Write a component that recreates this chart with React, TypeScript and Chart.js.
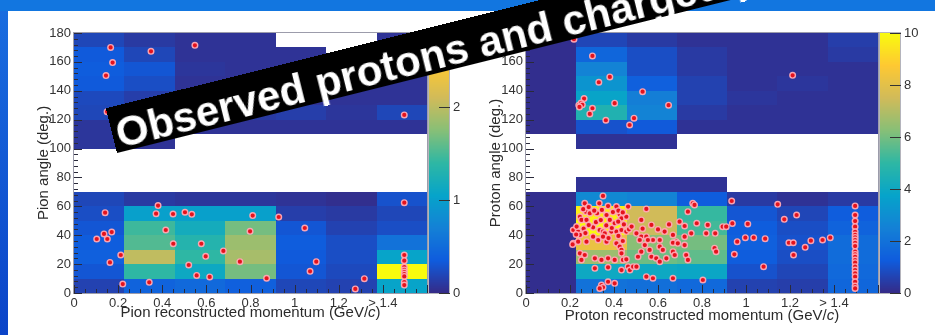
import React, { useEffect, useRef } from 'react';
import { Chart, registerables } from 'chart.js';
Chart.register(...registerables);

const FAMILY = "'Liberation Sans', Arial, Helvetica, sans-serif";

// ---------- binning & labels ----------
const momentumBinEdges = [0, 0.22857, 0.45714, 0.68571, 0.91429, 1.14286, 1.37143, 1.6];
const angleBinEdges = [0, 10, 20, 30, 40, 50, 60, 70, 80, 90, 100, 110, 120, 130, 140, 150, 160, 170, 180];
const momentumTickValues = [0, 0.2, 0.4, 0.6, 0.8, 1.0, 1.2, 1.4];
const momentumTickLabels = ['0', '0.2', '0.4', '0.6', '0.8', '1', '1.2', '> 1.4'];

// ---------- histogram contents: rows = angle bins (0-10 ... 170-180), cols = momentum bins ----------
const pionCounts: (number | null)[][] = [
  [0.17, 0.42, 0.48, 0.39, 0.2, 0.17, 1.06],
  [0.31, 1.4, 1.12, 1.68, 0.31, 0.22, 2.8],
  [0.39, 2.02, 1.4, 1.9, 0.34, 0.25, 1.06],
  [0.36, 1.54, 1.32, 1.85, 0.36, 0.25, 0.56],
  [0.31, 1.46, 1.18, 1.68, 0.31, 0.17, 0.25],
  [0.25, 1.01, 1.01, 1.01, 0.14, 0.11, 0.2],
  [0.2, 0.11, 0.08, 0.08, 0.06, 0.03, 0.28],
  [null, null, null, null, null, null, null],
  [null, null, null, null, null, null, null],
  [null, null, null, null, null, null, null],
  [0.08, 0.06, null, null, null, null, null],
  [0.08, 0.06, 0.06, 0.06, 0.06, 0.06, 0.06],
  [0.2, 0.08, 0.06, 0.11, 0.14, 0.08, 0.2],
  [0.22, 0.14, 0.06, 0.06, 0.06, 0.06, 0.06],
  [0.34, 0.25, 0.06, 0.06, 0.06, 0.06, 0.06],
  [0.36, 0.31, 0.08, 0.06, 0.06, 0.06, 0.06],
  [0.34, 0.2, 0.06, 0.06, 0.06, null, 0.06],
  [0.2, 0.11, 0.06, 0.06, null, null, 0.06],
];
const pionColorMax = 2.8;
const pionColorTicks = [0, 1, 2];

const protonCounts: (number | null)[][] = [
  [0.1, 2.0, 1.9, 1.7, 0.6, 0.5, 1.6],
  [0.1, 4.0, 4.0, 3.9, 1.0, 0.7, 1.7],
  [0.1, 6.6, 5.9, 5.7, 1.3, 0.9, 1.8],
  [0.1, 8.2, 6.3, 6.0, 1.4, 1.0, 1.8],
  [0.1, 10, 7.4, 5.3, 1.3, 0.9, 1.5],
  [0.1, 9.7, 7.5, 5.1, 1.1, 0.7, 1.3],
  [0.1, 2.8, 2.6, 1.3, 0.4, 0.2, 0.4],
  [null, 0.2, 0.2, 0.2, null, null, null],
  [null, null, null, null, null, null, null],
  [null, null, null, null, null, null, null],
  [null, 0.2, 0.2, null, null, null, null],
  [0.1, 1.0, 1.2, 0.2, 0.2, 0.2, 0.2],
  [0.1, 4.6, 2.6, 0.4, 0.2, 0.2, 0.2],
  [0.1, 3.8, 2.4, 0.6, 0.3, 0.2, 0.2],
  [0.1, 3.2, 1.4, 0.6, 0.2, 0.3, 0.2],
  [0.1, 2.6, 0.9, 0.4, 0.2, 0.2, 0.2],
  [0.1, 1.6, 0.9, 0.4, 0.2, 0.2, 0.4],
  [0.1, 0.7, 0.4, 0.2, 0.2, 0.2, 0.5],
];
const protonColorMax = 10;
const protonColorTicks = [0, 2, 4, 6, 8, 10];

// ---------- observed events ----------
const pionMomentum = [
  0.166, 0.175, 0.145, 0.349, 0.548, 1.497, 0.15,
  0.141, 0.103, 0.136, 0.151, 0.171, 0.163, 0.212, 0.221, 0.341, 0.381, 0.372, 0.416, 0.449, 0.45,
  0.503, 0.534, 0.52, 0.577, 0.556, 0.597, 0.615, 0.677, 0.752, 0.798, 0.81, 0.873, 0.928, 1.046,
  1.098, 1.07, 1.316, 1.275, 1.497,
  1.497, 1.497, 1.497, 1.497, 1.497, 1.497, 1.497, 1.497, 1.497,
];
const pionAngle = [
  170, 159.5, 150.5, 167.3, 171.5, 123.3, 125.5,
  55.6, 37.4, 40.9, 37.4, 42.2, 21.2, 26.3, 6.2, 7.4, 60.5, 54.9, 43.6, 54.7, 34.1,
  55.9, 54.5, 19.4, 34.1, 12.2, 25.4, 11.1, 29.1, 21.7, 42.7, 53.6, 10.2, 52.6, 45.0,
  21.7, 15.0, 9.9, 2.8, 62.5,
  26.3, 22.4, 18, 16, 14.5, 13, 11.5, 7.5, 5.5,
];

const protonMomentum = [
  0.218, 0.302, 0.381, 0.331, 0.264, 0.403, 0.24, 0.25, 0.256, 0.243, 0.302, 0.29, 0.363, 0.491, 0.471, 0.53, 0.648, 1.212,
  0.35, 0.267, 0.333, 0.373, 0.411, 0.464, 0.547, 0.758, 0.766, 0.736,
  0.272, 0.29, 0.323, 0.366, 0.426, 0.434, 0.456, 0.245, 0.252, 0.275, 0.381, 0.403, 0.419, 0.524, 0.57, 0.698, 0.721, 0.776, 0.826, 0.894, 0.91,
  0.215, 0.237, 0.245, 0.305, 0.335, 0.35, 0.358, 0.388, 0.411, 0.434, 0.456, 0.468, 0.502, 0.524, 0.547, 0.577, 0.608, 0.63, 0.668, 0.683, 0.721, 0.751, 0.819, 0.86,
  0.215, 0.237, 0.275, 0.305, 0.328, 0.35, 0.366, 0.411, 0.426, 0.434, 0.517, 0.54, 0.554, 0.562, 0.608, 0.622, 0.668, 0.69, 0.721, 0.728, 0.736, 0.857, 0.864,
  0.245, 0.267, 0.252, 0.313, 0.343, 0.373, 0.403, 0.434, 0.441, 0.456, 0.509, 0.524, 0.57, 0.592, 0.608, 0.638, 0.668, 0.676,
  0.313, 0.373, 0.434, 0.464, 0.472, 0.487, 0.502, 0.547, 0.577, 0.668, 0.804,
  0.343, 0.35, 0.373, 0.403, 0.335,
  0.26, 0.285, 0.31, 0.345, 0.395, 0.42, 0.44, 0.23, 0.262, 0.285, 0.318, 0.34, 0.365, 0.39, 0.445, 0.228, 0.27, 0.375, 0.42, 0.44,
  0.48, 0.6, 0.65, 0.53,
  0.935, 0.938, 0.96, 0.947, 1.008, 0.997, 1.035, 1.087, 1.08, 1.144, 1.174, 1.23, 1.195, 1.215, 1.216, 1.269, 1.295, 1.348, 1.383, 0.212,
  1.496, 1.496, 1.496, 1.496, 1.496, 1.496, 1.496, 1.496, 1.496, 1.496, 1.496,
  1.496, 1.496, 1.496, 1.496, 1.496, 1.496, 1.496, 1.496, 1.496, 1.496, 1.496,
];
const protonAngle = [
  175.7, 164.1, 149.6, 145.9, 134.6, 131.4, 130, 131.5, 130.3, 128.8, 127.9, 124, 119.6, 121, 116.3, 139.4, 130, 150.7,
  67.2, 62.1, 62.1, 60.2, 59.8, 59.8, 58.2, 62.1, 61, 56.3,
  56.3, 55.2, 55.2, 54, 54.5, 51.7, 52.8, 52.8, 50.6, 50.6, 50.6, 48.3, 49.4, 50.6, 47.1, 49.4, 46.4, 48.3, 47.1, 45.9, 45.9,
  43.6, 42.5, 40.2, 45.5, 43.6, 42.5, 41.3, 42.5, 42.5, 43.6, 42.5, 44.1, 41.3, 39, 39, 36.7, 36.7, 42.5, 40.2, 35.5, 39, 41.3, 41.3, 41.3,
  34.4, 35.5, 35.5, 39, 36.7, 39, 35.5, 34.4, 32.1, 29.8, 36.7, 33.2, 36.7, 29.8, 32.1, 29.8, 34.8, 34.4, 33.2, 26.3, 22.9, 31, 28.6,
  27.5, 26.3, 22.9, 24, 22.9, 24, 22.9, 27.5, 22.9, 23.3, 25.1, 28.6, 25.1, 24, 21.7, 24, 28.6, 26.3,
  17.1, 17.8, 15.9, 18.2, 15.9, 18.2, 18.2, 11.3, 10.2, 10.2, 9,
  5.5, 3.9, 7.8, 6.7, 3.2,
  58, 59.5, 57, 57.5, 56, 57, 55.8, 46, 44.5, 47, 49, 50.5, 46.8, 45, 47.5, 40.5, 41.5, 38, 39.5, 36,
  46, 44, 47.5, 44.5,
  63.7, 48.2, 35.5, 26.8, 47.8, 38.3, 38.3, 37.6, 18.2, 61.4, 51, 54, 34.8, 34.8, 26.3, 31.6, 36.2, 36.7, 38.3, 33.6,
  60.3, 54, 49.8, 45.9, 42.4, 40.2, 38.5, 36.7, 34.8, 32.5, 28.6,
  26.7, 25.1, 22.8, 21, 18.2, 15.9, 13.6, 11.3, 7.8, 4.8, 3.2,
];

// ---------- ROOT kBird palette ----------
const birdR = [0.2082, 0.0592, 0.078, 0.0232, 0.1802, 0.5301, 0.8186, 0.9956, 0.9764];
const birdG = [0.1664, 0.3599, 0.5041, 0.6419, 0.7178, 0.7492, 0.7328, 0.7862, 0.9832];
const birdB = [0.5293, 0.8684, 0.8385, 0.7914, 0.6425, 0.4662, 0.3499, 0.1968, 0.0539];

function birdColor(t: number): string {
  const tt = Math.max(0, Math.min(1, t));
  const pos = tt * 8;
  const i = Math.min(7, Math.floor(pos));
  const f = pos - i;
  const r = birdR[i] + (birdR[i + 1] - birdR[i]) * f;
  const g = birdG[i] + (birdG[i + 1] - birdG[i]) * f;
  const b = birdB[i] + (birdB[i + 1] - birdB[i]) * f;
  return `rgb(${Math.round(r * 255)},${Math.round(g * 255)},${Math.round(b * 255)})`;
}

type PanelCfg = {
  counts: (number | null)[][];
  colorMax: number;
  colorTicks: number[];
  xTitleMain: string;
  yTitle: string;
  xTitleY: number;
  yTitleX: number;
};

function makeHistPlugin(cfg: PanelCfg) {
  return {
    id: 'hist2d',
    beforeDatasetsDraw(chart: any) {
      const { ctx, chartArea: a, scales } = chart;
      const xs = scales.x;
      const ys = scales.y;
      ctx.save();
      // cells
      for (let r = 0; r < cfg.counts.length; r++) {
        for (let c = 0; c < cfg.counts[r].length; c++) {
          const v = cfg.counts[r][c];
          if (v === null || v === undefined) continue;
          const x0 = Math.round(xs.getPixelForValue(momentumBinEdges[c]));
          const x1 = Math.round(xs.getPixelForValue(momentumBinEdges[c + 1]));
          const y0 = Math.round(ys.getPixelForValue(angleBinEdges[r + 1]));
          const y1 = Math.round(ys.getPixelForValue(angleBinEdges[r]));
          ctx.fillStyle = birdColor(v / cfg.colorMax);
          ctx.fillRect(x0, y0, x1 - x0, y1 - y0);
        }
      }
      // frame
      ctx.strokeStyle = '#9c9cab';
      ctx.lineWidth = 1;
      ctx.strokeRect(a.left - 0.5, a.top - 0.5, a.right - a.left + 1, a.bottom - a.top + 1);
      // inward ticks (ROOT style)
      ctx.strokeStyle = '#2a2a3a';
      ctx.beginPath();
      for (let i = 0; i <= 32; i++) {
        const v = i * 0.05;
        const px = Math.round(xs.getPixelForValue(v)) + 0.5;
        const len = i % 4 === 0 ? 8 : 4;
        ctx.moveTo(px, a.bottom);
        ctx.lineTo(px, a.bottom - len);
      }
      for (let i = 0; i <= 45; i++) {
        const v = i * 4;
        const py = Math.round(ys.getPixelForValue(v)) + 0.5;
        const len = i % 5 === 0 ? 8 : 4;
        ctx.moveTo(a.left, py);
        ctx.lineTo(a.left + len, py);
      }
      ctx.stroke();
      // colour bar
      const cbL = a.right + 1;
      const cbW = 22;
      const h = a.bottom - a.top;
      for (let py = a.top; py < a.bottom; py++) {
        const t = (a.bottom - py - 0.5) / h;
        ctx.fillStyle = birdColor(t);
        ctx.fillRect(cbL, py, cbW, 1);
      }
      ctx.strokeStyle = '#b4b4bc';
      ctx.strokeRect(cbL + 0.5, a.top - 0.5, cbW - 1, h + 1);
      ctx.strokeStyle = '#333333';
      ctx.beginPath();
      ctx.font = `13px ${FAMILY}`;
      ctx.fillStyle = '#333333';
      ctx.textAlign = 'left';
      ctx.textBaseline = 'middle';
      for (const v of cfg.colorTicks) {
        const py = Math.round(a.bottom - (v / cfg.colorMax) * h) + 0.5;
        ctx.moveTo(cbL + cbW - 11, py);
        ctx.lineTo(cbL + cbW, py);
        ctx.fillText(String(v), cbL + cbW + 3, py);
      }
      ctx.stroke();
      ctx.restore();
    },
    afterDraw(chart: any) {
      const { ctx, chartArea: a } = chart;
      ctx.save();
      ctx.fillStyle = '#2b2b2b';
      const normal = `15px ${FAMILY}`;
      const italic = `italic 15px ${FAMILY}`;
      ctx.font = normal;
      const w1 = ctx.measureText(cfg.xTitleMain).width;
      const w3 = ctx.measureText(')').width;
      ctx.font = italic;
      const w2 = ctx.measureText('c').width;
      let x0 = (a.left + a.right) / 2 - (w1 + w2 + w3) / 2;
      ctx.textAlign = 'left';
      ctx.textBaseline = 'alphabetic';
      ctx.font = normal;
      ctx.fillText(cfg.xTitleMain, x0, cfg.xTitleY);
      x0 += w1;
      ctx.font = italic;
      ctx.fillText('c', x0, cfg.xTitleY);
      x0 += w2;
      ctx.font = normal;
      ctx.fillText(')', x0, cfg.xTitleY);
      // y title
      ctx.translate(cfg.yTitleX, (a.top + a.bottom) / 2);
      ctx.rotate(-Math.PI / 2);
      ctx.textAlign = 'center';
      ctx.fillText(cfg.yTitle, 0, 0);
      ctx.restore();
    },
  };
}

function Panel(props: {
  left: number;
  width: number;
  yAxisWidth: number;
  rightPad: number;
  momentum: number[];
  angle: number[];
  cfg: PanelCfg;
}) {
  const ref = useRef<HTMLCanvasElement | null>(null);
  useEffect(() => {
    if (!ref.current) return;
    const points = props.momentum.map((m, i) => ({ x: m, y: props.angle[i] }));
    const tickFont = { size: 13, family: FAMILY };
    const chart = new Chart(ref.current, {
      type: 'scatter',
      data: {
        datasets: [
          {
            data: points,
            pointRadius: 2.8,
            pointBorderWidth: 1.4,
            pointHoverRadius: 2.8,
            backgroundColor: '#e5121c',
            borderColor: 'rgba(255,170,182,0.95)',
          },
        ],
      },
      options: {
        responsive: false,
        animation: false,
        devicePixelRatio: 1,
        events: [],
        layout: { padding: { left: 0, top: 33, right: props.rightPad, bottom: 0 } },
        plugins: { legend: { display: false }, tooltip: { enabled: false } },
        scales: {
          x: {
            type: 'linear',
            min: 0,
            max: 1.6,
            grid: { display: false, drawTicks: false },
            border: { display: false },
            afterBuildTicks: (s: any) => {
              s.ticks = momentumTickValues.map((v) => ({ value: v }));
            },
            afterFit: (s: any) => {
              s.height = 42;
            },
            ticks: {
              autoSkip: false,
              maxRotation: 0,
              padding: 3,
              color: '#333333',
              font: tickFont,
              callback: (_v: any, i: number) => momentumTickLabels[i],
            },
          },
          y: {
            type: 'linear',
            min: 0,
            max: 180,
            grid: { display: false, drawTicks: false },
            border: { display: false },
            afterFit: (s: any) => {
              s.width = props.yAxisWidth;
            },
            ticks: { stepSize: 20, padding: 3, color: '#333333', font: tickFont },
          },
        },
      } as any,
      plugins: [makeHistPlugin(props.cfg)],
    });
    return () => chart.destroy();
  }, []);
  return (
    <canvas
      ref={ref}
      width={props.width}
      height={335}
      style={{ position: 'absolute', left: props.left, top: 0, width: props.width, height: 335 }}
    />
  );
}

export default function App() {
  return (
    <div
      style={{
        position: 'fixed',
        left: 0,
        top: 0,
        width: 935,
        height: 335,
        overflow: 'hidden',
        background: '#ffffff',
        fontFamily: FAMILY,
      }}
    >
      <div
        style={{
          position: 'absolute',
          left: 0,
          top: 0,
          width: 8,
          height: 335,
          background: 'linear-gradient(#1a6ee0, #0b44c8)',
        }}
      />
      <div style={{ position: 'absolute', left: 0, top: 0, width: 935, height: 11, background: '#1276e0' }} />
      <Panel
        left={0}
        width={470}
        yAxisWidth={74}
        rightPad={43}
        momentum={pionMomentum}
        angle={pionAngle}
        cfg={{
          counts: pionCounts,
          colorMax: pionColorMax,
          colorTicks: pionColorTicks,
          xTitleMain: 'Pion reconstructed momentum (GeV/',
          yTitle: 'Pion angle (deg.)',
          xTitleY: 317,
          yTitleX: 47.5,
        }}
      />
      <Panel
        left={470}
        width={465}
        yAxisWidth={56}
        rightPad={57}
        momentum={protonMomentum}
        angle={protonAngle}
        cfg={{
          counts: protonCounts,
          colorMax: protonColorMax,
          colorTicks: protonColorTicks,
          xTitleMain: 'Proton reconstructed momentum (GeV/',
          yTitle: 'Proton angle (deg.)',
          xTitleY: 320,
          yTitleX: 30,
        }}
      />
      <div
        style={{
          position: 'absolute',
          left: 117,
          top: 107,
          width: 900,
          height: 41,
          paddingTop: 5,
          paddingLeft: 4,
          background: '#000000',
          color: '#ffffff',
          fontFamily: FAMILY,
          fontWeight: 'bold',
          fontSize: 42,
          lineHeight: '46px',
          whiteSpace: 'nowrap',
          transformOrigin: '0 100%',
          transform: 'rotate(-14deg)',
          boxSizing: 'content-box',
        }}
      >
        Observed protons and charged pions
      </div>
    </div>
  );
}
